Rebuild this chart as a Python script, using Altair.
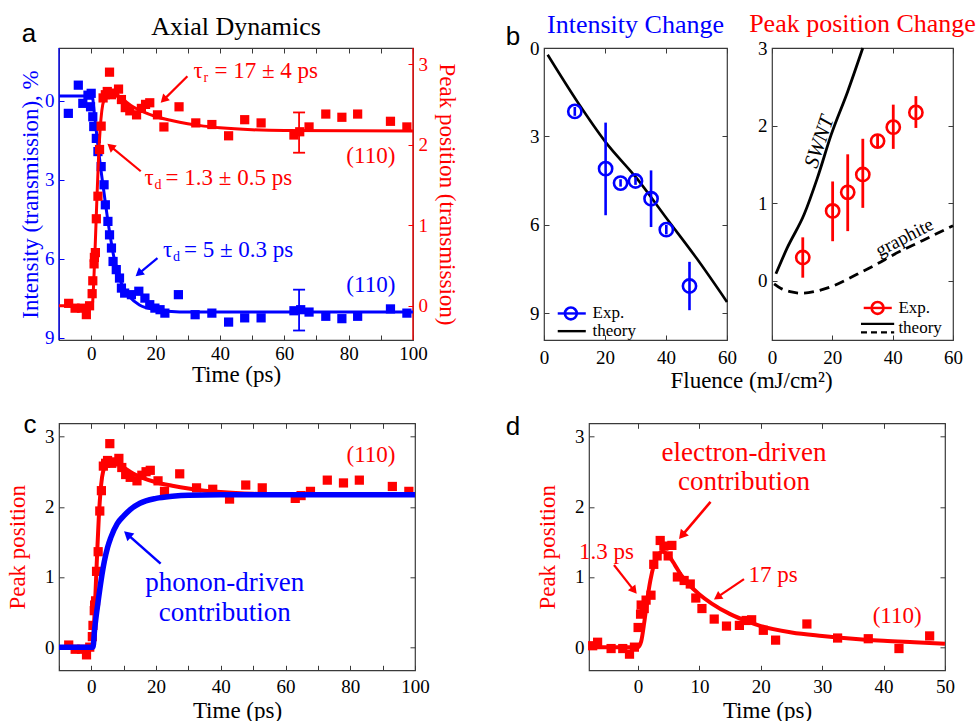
import math
import altair as alt
import pandas as pd

SERIF = "Liberation Serif"
SANS = "Liberation Sans"
BLUE = "#0000FF"
RED = "#FF0000"
BLACK = "#000000"
FRAME = "#3A3A3A"

# ---------------- Panel a : axial dynamics ----------------
a_int_time = [-7.1, -4.0, -2.6, -1.0, 0.0, -0.2, 0.5, 0.8, 1.6, 2.1, 3.1, 4.0, 4.4, 5.2, 5.7, 6.3, 6.8, 7.8, 8.8, 9.4,
              10.4, 12.5, 14.8, 16.7, 18.2, 19.8, 21.4, 22.9, 27.1, 32.3, 37.5, 42.7, 47.7, 52.8, 63.0, 65.1, 67.7,
              72.9, 77.9, 82.8, 93.0, 98.1]
a_int_value = [0.48, -0.59, 0.10, -0.21, -0.28, 0.23, 0.61, 0.98, 1.43, 1.93, 2.50, 3.19, 3.95, 4.58, 5.09, 5.59, 6.10,
               6.41, 6.73, 7.11, 7.30, 7.36, 7.23, 7.49, 7.74, 7.87, 7.93, 8.06, 7.36, 8.12, 8.06, 8.40, 8.24, 8.24,
               7.97, 7.93, 8.02, 8.18, 8.27, 8.18, 7.90, 8.06]
a_int_err = [64.6, 7.17, 8.72]
a_int_fit_time = [-10, 0.3, 1, 2, 3, 4, 5, 6, 7, 8, 9, 10, 12, 15, 20, 25, 30, 40, 100]
a_int_fit_value = [-0.18, -0.18, 0.5, 1.6, 2.6, 3.5, 4.4, 5.2, 5.9, 6.4, 6.8, 7.1, 7.45, 7.75, 7.93, 8.0, 8.02, 8.02, 8.02]

pk_time = [-7.0, -5.0, -3.0, -1.5, -0.5, 0.3, 0.5, 0.9, 1.0, 1.3, 1.6, 2.1, 2.6, 3.1, 3.7, 4.4, 5.0, 5.7, 6.3, 7.3,
           8.5, 9.4, 10.6, 12.0, 14.1, 15.6, 16.9, 18.2, 20.6, 22.6, 27.3, 32.5, 37.5, 42.7, 47.7, 52.8, 63.0, 64.8,
           67.7, 72.9, 77.9, 82.8, 93.0, 98.1]
pk_value = [0.03, -0.03, -0.03, -0.11, 0.00, 0.15, 0.31, 0.52, 0.60, 0.66, 1.08, 1.36, 1.94, 2.23, 2.58, 2.62, 2.66,
            2.90, 2.62, 2.64, 2.69, 2.56, 2.46, 2.42, 2.37, 2.45, 2.50, 2.52, 2.37, 2.22, 2.47, 2.27, 2.25, 2.11,
            2.31, 2.27, 2.12, 2.16, 2.22, 2.38, 2.34, 2.38, 2.29, 2.22]
a_pk_err = [64.6, 1.90, 2.40]
pk_fit_time = [-10, 0.3, 0.8, 1.3, 1.8, 2.3, 2.8, 3.3, 4, 5, 6, 7, 8, 10, 13, 16, 20, 25, 30, 35, 40, 50, 60, 100]
pk_fit_value = [0, 0, 0.3, 0.8, 1.35, 1.85, 2.2, 2.42, 2.56, 2.62, 2.64, 2.64, 2.62, 2.56, 2.47, 2.41, 2.35, 2.3,
                2.26, 2.23, 2.21, 2.185, 2.175, 2.17]

# ---------------- Panel c : phonon-driven contribution ----------------
c_phonon_time = [-10, 0.5, 1, 1.5, 2, 3, 4, 5, 6, 8, 10, 12, 15, 20, 25, 30, 40, 100]
c_phonon_value = [0, 0, 0.25, 0.45, 0.62, 0.95, 1.22, 1.42, 1.56, 1.76, 1.87, 1.96, 2.05, 2.12, 2.15, 2.165, 2.17, 2.17]

# ---------------- Panel d : electron-driven contribution ----------------
d_time = [-7.4, -6.6, -4.4, -2.5, -1.4, -0.6, 0.0, 0.4, 0.5, 1.0, 1.3, 2.1, 2.55, 3.1, 3.6, 4.2, 4.9, 5.5, 6.4, 7.5,
          8.5, 9.4, 10.4, 12.4, 14.4, 16.5, 17.6, 18.5, 20.4, 22.4, 27.5, 32.5, 37.5, 42.5, 47.5]
d_value = [0.02, 0.07, -0.02, -0.02, -0.10, 0.00, 0.28, 0.47, 0.60, 0.55, 0.67, 0.74, 1.18, 1.30, 1.52, 1.44, 1.30,
           1.45, 1.00, 0.95, 0.90, 0.70, 0.55, 0.40, 0.30, 0.31, 0.38, 0.39, 0.24, 0.10, 0.33, 0.13, 0.12, -0.02, 0.16]
d_fit_time = [-8, 0, 0.5, 1, 1.5, 2, 2.5, 3, 3.5, 4, 5, 6, 7, 8, 10, 12, 15, 18, 20, 25, 30, 35, 40, 45, 50]
d_fit_value = [0, 0, 0.08, 0.35, 0.68, 0.95, 1.15, 1.28, 1.34, 1.36, 1.30, 1.17, 1.03, 0.92, 0.75, 0.62, 0.47, 0.36,
               0.30, 0.21, 0.16, 0.12, 0.09, 0.07, 0.05]

# ---------------- Panel b : fluence dependence ----------------
b_int_fluence = [10.1, 20.2, 25.1, 30.0, 35.1, 40.1, 47.7]
b_int_value = [2.15, 4.09, 4.58, 4.51, 5.11, 6.16, 8.07]
b_int_lo = [2.00, 2.53, 4.45, 4.38, 4.15, 6.00, 7.25]
b_int_hi = [2.30, 5.67, 4.70, 4.64, 6.07, 6.32, 8.89]
b_int_theory_fluence = [1.2, 11.0, 20.2, 30.5, 40.3, 50.1, 60.0]
b_int_theory_value = [0.23, 1.83, 3.19, 4.43, 5.79, 7.14, 8.61]

b_pk_fluence = [10.2, 20.1, 25.1, 30.1, 35.0, 40.2, 47.7]
b_pk_value = [0.30, 0.90, 1.14, 1.37, 1.80, 1.98, 2.17]
b_pk_lo = [0.04, 0.51, 0.64, 0.94, 1.72, 1.70, 1.97]
b_pk_hi = [0.56, 1.28, 1.63, 1.83, 1.88, 2.27, 2.38]
b_swnt_fluence = [1.3, 5.0, 10.7, 15.0, 19.6, 25.1, 30.1]
b_swnt_value = [0.09, 0.42, 0.86, 1.32, 1.88, 2.44, 3.0]
b_graphite_fluence = [0.7, 3, 6, 10, 15, 20, 25, 30, 35, 40, 50, 60]
b_graphite_value = [-0.04, -0.10, -0.14, -0.16, -0.13, -0.07, 0.02, 0.12, 0.22, 0.33, 0.52, 0.71]

# ---------------- layout sizes ----------------
ROW1_H = 292
A_W = 354
BL_W, BR_W = 183, 181
C_W, D_W, CD_H = 356, 356, 247
ROW1_TOP, ROW2_TOP, LEFT = 46.7, 420.0, 58.3
ROW1_BOTTOM_ANCHOR = 60
ROW2_TOP_ANCHOR = 20

ONE = pd.DataFrame({"k": [0]})


def make_panel(xdom, ydom, W, H, yrev=False):
    return {"xdom": xdom, "ydom": ydom, "W": W, "H": H, "yrev": yrev,
            "xs": alt.Scale(domain=xdom, nice=False, zero=False),
            "ys": alt.Scale(domain=ydom, nice=False, zero=False, reverse=yrev)}


def kx(p):
    return p["W"] / (p["xdom"][1] - p["xdom"][0])


def ky(p):
    k = p["H"] / (p["ydom"][1] - p["ydom"][0])
    return k if p["yrev"] else -k


def pos(p, x="x", y="y", xaxis=None, yaxis=None):
    return {"x": alt.X(f"{x}:Q", scale=p["xs"], axis=xaxis),
            "y": alt.Y(f"{y}:Q", scale=p["ys"], axis=yaxis)}


def axis(orient, values, label_color=BLACK, tick_color=FRAME, labels=True, title=None, title_color=BLACK,
         label_expr=None, label_padding=8, title_padding=5, title_x=None):
    kw = dict(orient=orient, values=values, domain=False, grid=False, ticks=True, tickSize=5, offset=-5,
              tickColor=tick_color, tickWidth=1, labels=labels, labelFont=SERIF, labelFontSize=19,
              labelColor=label_color, labelPadding=label_padding, labelFlush=False, labelOverlap=False,
              titleFont=SERIF, titleFontSize=23, titleFontWeight="normal", titleColor=title_color,
              titlePadding=title_padding, title=title)
    if label_expr:
        kw["labelExpr"] = label_expr
    if title_x is not None:
        kw["titleX"] = title_x
    return alt.Axis(**kw)


def line(p, xs, ys, color, width, dash=None):
    kw = dict(color=color, strokeWidth=width, interpolate="monotone")
    if dash:
        kw["strokeDash"] = dash
    return alt.Chart(pd.DataFrame({"x": xs, "y": ys})).mark_line(**kw).encode(**pos(p))


def squares(p, xs, ys, color, xaxis=None, yaxis=None):
    return alt.Chart(pd.DataFrame({"x": xs, "y": ys})).mark_square(size=85, color=color, opacity=1).encode(
        **pos(p, xaxis=xaxis, yaxis=yaxis))


def circles(p, xs, ys, color, size=175, xaxis=None, yaxis=None):
    return alt.Chart(pd.DataFrame({"x": xs, "y": ys})).mark_point(
        shape="circle", filled=False, size=size, strokeWidth=2.6, color=color, opacity=1).encode(
        **pos(p, xaxis=xaxis, yaxis=yaxis))


def vbars(p, xs, lo, hi, color, width=2.6):
    df = pd.DataFrame({"x": xs, "lo": lo, "hi": hi})
    return alt.Chart(df).mark_rule(color=color, strokeWidth=width).encode(
        x=alt.X("x:Q", scale=p["xs"], axis=None), y=alt.Y("lo:Q", scale=p["ys"], axis=None), y2=alt.Y2("hi"))


def caps(p, x, lo, hi, color, half_px=6, width=1.8):
    d = half_px / kx(p)
    df = pd.DataFrame({"x": [x - d, x - d], "x2": [x + d, x + d], "y": [lo, hi]})
    return alt.Chart(df).mark_rule(color=color, strokeWidth=width).encode(**pos(p), x2=alt.X2("x2"))


def hseg(p, x1, x2, y, color, width, dash=None):
    kw = dict(color=color, strokeWidth=width)
    if dash:
        kw["strokeDash"] = dash
    df = pd.DataFrame({"x": [x1], "x2": [x2], "y": [y]})
    return alt.Chart(df).mark_rule(**kw).encode(**pos(p), x2=alt.X2("x2"))


def text(p, x, y, s, color, size=23, align="center", baseline="middle", angle=None, italic=False, dx=0, dy=0):
    kw = dict(text=s, font=SERIF, fontSize=size, color=color, align=align, baseline=baseline)
    if angle is not None:
        kw["angle"] = angle
    if italic:
        kw["fontStyle"] = "italic"
    if dx:
        kw["dx"] = dx
    if dy:
        kw["dy"] = dy
    return alt.Chart(pd.DataFrame({"x": [x], "y": [y]})).mark_text(**kw).encode(**pos(p))


def tau(p, x, y, sub, rest, color):
    return [text(p, x, y, "τ", color, align="left"),
            text(p, x, y, sub, color, size=14, align="left", dx=10, dy=7),
            text(p, x, y, rest, color, align="left", dx=21)]


def arrow(p, tail, tip, color, width=2.2, head=90):
    sx, sy = kx(p), ky(p)
    dxp = (tip[0] - tail[0]) * sx
    dyp = (tip[1] - tail[1]) * sy
    L = math.hypot(dxp, dyp)
    ux, uy = dxp / L, dyp / L
    h = math.sqrt(3) * math.sqrt(head) / 4
    cx = tip[0] - ux * h / sx
    cy = tip[1] - uy * h / sy
    ang = math.degrees(math.atan2(ux, -uy)) % 360
    shaft = alt.Chart(pd.DataFrame({"x": [tail[0]], "y": [tail[1]], "x2": [cx], "y2": [cy]})).mark_rule(
        color=color, strokeWidth=width).encode(**pos(p), x2=alt.X2("x2"), y2=alt.Y2("y2"))
    point = alt.Chart(pd.DataFrame({"x": [cx], "y": [cy]})).mark_point(
        shape="triangle-up", filled=True, size=head, color=color, opacity=1, angle=ang).encode(**pos(p))
    return [shaft, point]


def slope_angle(p, x1, y1, x2, y2):
    dxp = (x2 - x1) * kx(p)
    dyp = (y2 - y1) * ky(p)
    return math.degrees(math.atan2(dyp, dxp)) % 360


def fixed_text(s, x, y, size, font=SERIF, color=BLACK, align="center", baseline="alphabetic"):
    return alt.Chart(ONE).mark_text(text=s, font=font, fontSize=size, color=color, align=align,
                                    baseline=baseline).encode(x=alt.value(x), y=alt.value(y))


def edge(x, H, color):
    return alt.Chart(ONE).mark_rule(color=color, strokeWidth=1.3).encode(x=alt.value(x), y=alt.value(0),
                                                                         y2=alt.value(H))


def invisible_anchor(x, y):
    # zero-opacity rule that pins the layout bounds of a row
    return alt.Chart(ONE).mark_rule(strokeOpacity=0, strokeWidth=0.5).encode(
        x=alt.value(x), x2=alt.value(x + 0.5), y=alt.value(y))


def mirror(p, xticks, yticks=None):
    enc = {"x": alt.X("x:Q", scale=p["xs"], axis=axis("top", xticks, labels=False))}
    if yticks is not None:
        enc["y"] = alt.Y("y:Q", scale=p["ys"], axis=axis("right", yticks, labels=False))
    df = pd.DataFrame({"x": [p["xdom"][0]], "y": [p["ydom"][0]]})
    return alt.Chart(df).mark_point(opacity=0).encode(**enc)


t10 = list(range(-10, 101, 10))
lab20 = "datum.value % 20 === 0 ? datum.label : ''"

# ---------------- panel a ----------------
pa = make_panel([-10, 100], [-2, 9.08], A_W, ROW1_H, yrev=True)
pa_r = make_panel([-10, 100], [-0.425, 3.2], A_W, ROW1_H)

panel_a = alt.layer(
    edge(0, ROW1_H, BLUE),
    edge(A_W, ROW1_H, RED),
    line(pa, a_int_fit_time, a_int_fit_value, BLUE, 3),
    squares(pa, a_int_time, a_int_value, BLUE,
            xaxis=axis("bottom", t10, label_expr=lab20, title="Time (ps)", label_padding=4, title_padding=0),
            yaxis=axis("left", [0, 3, 6, 9], label_color=BLUE, tick_color=BLUE,
                       title="Intensity (transmission), %", title_color=BLUE, label_padding=5, title_padding=2)),
    vbars(pa, [a_int_err[0]], [a_int_err[1]], [a_int_err[2]], BLUE, 1.8),
    caps(pa, a_int_err[0], a_int_err[1], a_int_err[2], BLUE),
    *tau(pa, 22.3, 5.65, "d", "= 5 ± 0.3 ps", BLUE),
    *arrow(pa, (20.6, 5.97), (13.8, 6.66), BLUE),
    text(pa, 86.9, 6.98, "(110)", BLUE),
    line(pa_r, pk_fit_time, pk_fit_value, RED, 3),
    squares(pa_r, pk_time, pk_value, RED,
            yaxis=axis("right", [0, 1, 2, 3], label_color=RED, tick_color=RED,
                       title="Peak position (transmission)", title_color=RED, label_padding=5, title_padding=7)),
    vbars(pa_r, [a_pk_err[0]], [a_pk_err[1]], [a_pk_err[2]], RED, 1.8),
    caps(pa_r, a_pk_err[0], a_pk_err[1], a_pk_err[2], RED),
    *tau(pa_r, 31.8, 2.91, "r", "= 17 ± 4 ps", RED),
    *tau(pa_r, 16.6, 1.59, "d", "= 1.3 ± 0.5 ps", RED),
    *arrow(pa_r, (29.9, 2.85), (21.6, 2.52), RED),
    *arrow(pa_r, (15.4, 1.67), (5.04, 2.01), RED),
    text(pa_r, 86.9, 1.86, "(110)", RED),
    fixed_text("a", -30, -6, 26, font=SANS),
    fixed_text("Axial Dynamics", A_W / 2, -13, 26),
    invisible_anchor(-LEFT, -ROW1_TOP),
    invisible_anchor(0, ROW1_H + ROW1_BOTTOM_ANCHOR),
    mirror(pa, t10),
).resolve_scale(y="independent").resolve_axis(x="independent", y="independent").properties(
    width=A_W, height=ROW1_H)

# ---------------- panel b (left) ----------------
pbl = make_panel([0, 60], [0, 9.9], BL_W, ROW1_H, yrev=True)
panel_bl = alt.layer(
    line(pbl, b_int_theory_fluence, b_int_theory_value, BLACK, 2.6),
    vbars(pbl, b_int_fluence, b_int_lo, b_int_hi, BLUE, 2.6),
    circles(pbl, b_int_fluence, b_int_value, BLUE,
            xaxis=axis("bottom", [0, 20, 40, 60], title="Fluence (mJ/cm²)", title_x=207, title_padding=2),
            yaxis=axis("left", [0, 3, 6, 9], label_padding=5)),
    hseg(pbl, 4.5, 13.7, 9.0, BLUE, 2.4),
    circles(pbl, [8.8], [9.0], BLUE, size=140),
    text(pbl, 15.9, 9.0, "Exp.", BLACK, size=17, align="left"),
    hseg(pbl, 4.5, 13.7, 9.6, BLACK, 2.4),
    text(pbl, 15.9, 9.6, "theory", BLACK, size=17, align="left"),
    fixed_text("Intensity Change", BL_W / 2, -15, 26, color=BLUE),
    fixed_text("b", -31, -3, 26, font=SANS),
    mirror(pbl, [0, 20, 40, 60], [0, 3, 6, 9]),
).resolve_axis(x="independent", y="independent").properties(width=BL_W, height=ROW1_H)

# ---------------- panel b (right) ----------------
pbr = make_panel([0, 60], [-0.763, 3], BR_W, ROW1_H)
swnt_ang = slope_angle(pbr, b_swnt_fluence[2], b_swnt_value[2], b_swnt_fluence[4], b_swnt_value[4])
gr_ang = slope_angle(pbr, b_graphite_fluence[8], b_graphite_value[8], b_graphite_fluence[10], b_graphite_value[10])
panel_br = alt.layer(
    line(pbr, b_swnt_fluence, b_swnt_value, BLACK, 2.8),
    line(pbr, b_graphite_fluence, b_graphite_value, BLACK, 2.8, dash=[10, 6]),
    vbars(pbr, b_pk_fluence, b_pk_lo, b_pk_hi, RED, 2.8),
    circles(pbr, b_pk_fluence, b_pk_value, RED,
            xaxis=axis("bottom", [0, 20, 40, 60], title=None),
            yaxis=axis("left", [0, 1, 2, 3], label_padding=5)),
    text(pbr, 15.8, 1.79, "SWNT", BLACK, size=21, angle=swnt_ang, italic=True),
    text(pbr, 43.9, 0.56, "graphite", BLACK, size=19, angle=gr_ang),
    hseg(pbr, 30.4, 39.7, -0.35, RED, 2.4),
    circles(pbr, [35.0], [-0.35], RED, size=140),
    text(pbr, 41.9, -0.35, "Exp.", BLACK, size=17, align="left"),
    hseg(pbr, 29.5, 40.5, -0.555, BLACK, 2.2),
    hseg(pbr, 29.5, 40.5, -0.665, BLACK, 2.2, dash=[6, 4]),
    text(pbr, 41.9, -0.61, "theory", BLACK, size=17, align="left"),
    fixed_text("Peak position Change", BR_W / 2, -16, 26, color=RED),
    mirror(pbr, [0, 20, 40, 60], [0, 1, 2, 3]),
).resolve_axis(x="independent", y="independent").properties(width=BR_W, height=ROW1_H)

# ---------------- panel c ----------------
pc = make_panel([-10, 100], [-0.33, 3.19], C_W, CD_H)
panel_c = alt.layer(
    line(pc, pk_fit_time, pk_fit_value, RED, 4),
    squares(pc, pk_time, pk_value, RED,
            xaxis=axis("bottom", t10, label_expr=lab20, title="Time (ps)", label_padding=7, title_padding=3),
            yaxis=axis("left", [0, 1, 2, 3], title="Peak position", title_color=RED, label_padding=5,
                       title_padding=15)),
    line(pc, c_phonon_time, c_phonon_value, BLUE, 5.5),
    *arrow(pc, (21.4, 1.19), (10.1, 1.65), BLUE, width=2.6, head=110),
    text(pc, 41.2, 0.91, "phonon-driven", BLUE, size=27),
    text(pc, 41.2, 0.48, "contribution", BLUE, size=27),
    text(pc, 86.4, 2.74, "(110)", RED),
    fixed_text("c", -29, 10, 26, font=SANS),
    invisible_anchor(-LEFT, -ROW2_TOP_ANCHOR),
    mirror(pc, t10, [0, 1, 2, 3]),
).resolve_axis(x="independent", y="independent").properties(width=C_W, height=CD_H)

# ---------------- panel d ----------------
pdd = make_panel([-8, 50], [-0.33, 3.19], D_W, CD_H)
t_d = [0, 10, 20, 30, 40, 50]
panel_d = alt.layer(
    line(pdd, d_fit_time, d_fit_value, RED, 4),
    squares(pdd, d_time, d_value, RED,
            xaxis=axis("bottom", t_d, title="Time (ps)", label_padding=7, title_padding=3),
            yaxis=axis("left", [0, 1, 2, 3], title="Peak position", title_color=RED, label_padding=5,
                       title_padding=15)),
    *arrow(pdd, (11.8, 2.07), (6.66, 1.54), RED, width=2.6, head=110),
    *arrow(pdd, (-3.93, 1.17), (-0.23, 0.76), RED, width=2.2),
    *arrow(pdd, (17.25, 0.97), (12.36, 0.68), RED, width=2.2),
    text(pdd, 17.25, 2.76, "electron-driven", RED, size=27),
    text(pdd, 17.25, 2.35, "contribution", RED, size=27),
    text(pdd, -5.15, 1.36, "1.3 ps", RED),
    text(pdd, 22.0, 1.03, "17 ps", RED),
    text(pdd, 42.2, 0.44, "(110)", RED),
    fixed_text("d", -76, 12, 26, font=SANS),
    mirror(pdd, t_d, [0, 1, 2, 3]),
).resolve_axis(x="independent", y="independent").properties(width=D_W, height=CD_H)


def spacer(w, h):
    return alt.Chart(ONE).mark_point(opacity=0).encode(x=alt.value(0), y=alt.value(0)).properties(
        width=w, height=h, view=alt.ViewBackground(stroke="transparent"))


row1 = alt.hconcat(panel_a, spacer(41, ROW1_H), panel_bl, panel_br, spacing=45, bounds="flush")
row2 = alt.hconcat(panel_c, spacer(84, CD_H), panel_d, spacing=45, bounds="flush")
row_gap = (ROW2_TOP - ROW2_TOP_ANCHOR) - (ROW1_TOP + ROW1_H + ROW1_BOTTOM_ANCHOR)

chart = alt.vconcat(row1, row2, spacing=row_gap, bounds="full").properties(
    padding={"left": 0, "top": 0, "right": 0, "bottom": 0}).configure_view(stroke=FRAME, strokeWidth=1.2)

chart.save("out.html", embed_options={"renderer": "svg", "actions": False})
